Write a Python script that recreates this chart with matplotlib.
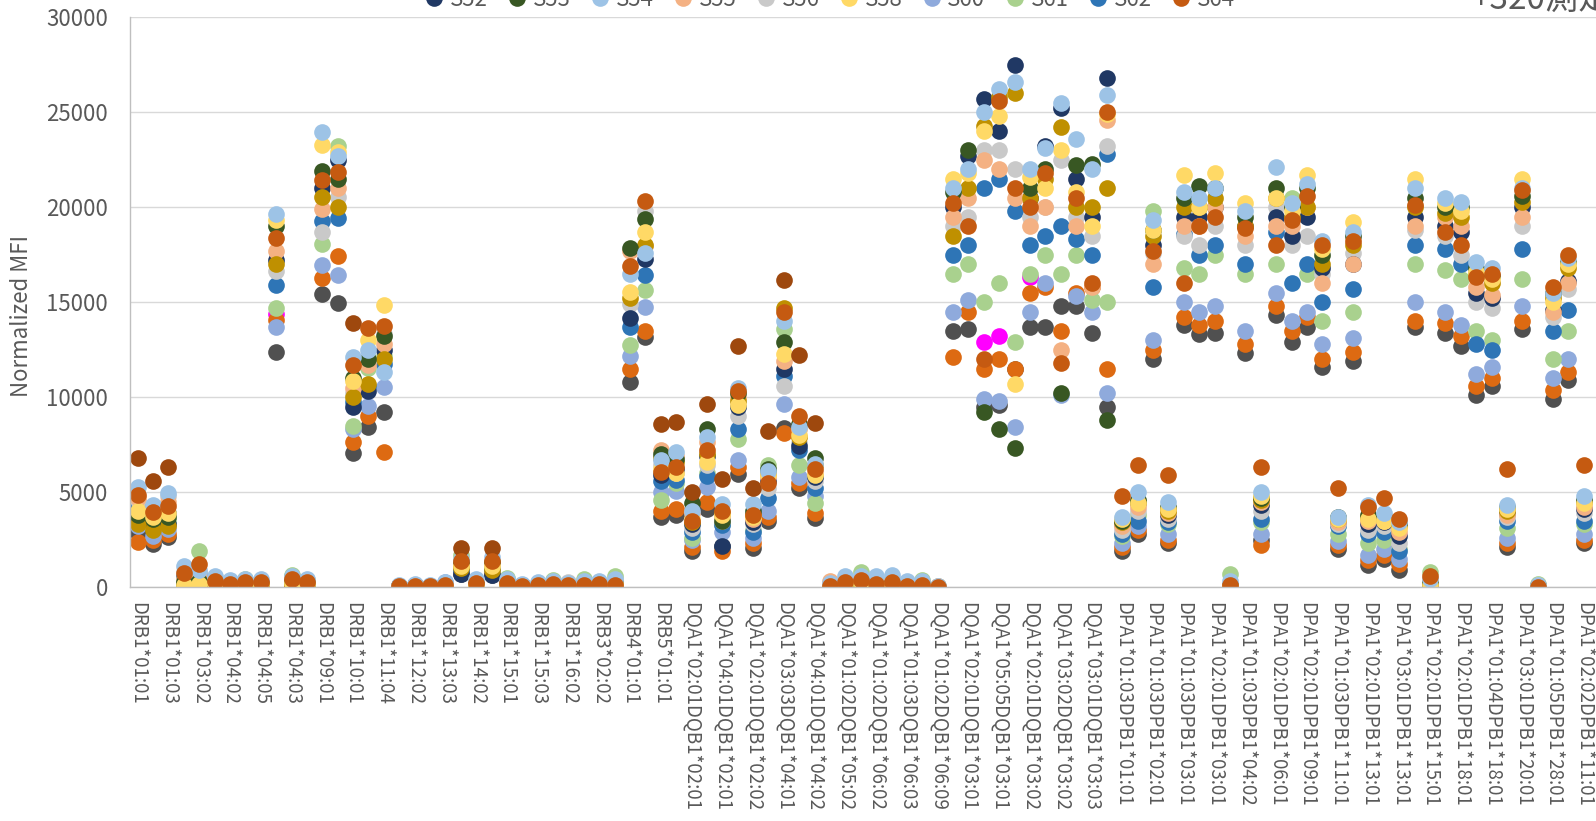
import numpy as np
import matplotlib
matplotlib.use("Agg")
import matplotlib.pyplot as plt

nan = np.nan

# x-axis labels (Excel shows every other category)
labels = ['DRB1*01:01', 'DRB1*01:03', 'DRB1*03:02', 'DRB1*04:02', 'DRB1*04:05', 'DRB1*04:03',
          'DRB1*09:01', 'DRB1*10:01', 'DRB1*11:04', 'DRB1*12:02', 'DRB1*13:03', 'DRB1*14:02',
          'DRB1*15:01', 'DRB1*15:03', 'DRB1*16:02', 'DRB3*02:02', 'DRB4*01:01', 'DRB5*01:01',
          'DQA1*02:01DQB1*02:01', 'DQA1*04:01DQB1*02:01', 'DQA1*02:01DQB1*02:02', 'DQA1*03:03DQB1*04:01',
          'DQA1*04:01DQB1*04:02', 'DQA1*01:02DQB1*05:02', 'DQA1*01:02DQB1*06:02', 'DQA1*01:03DQB1*06:03',
          'DQA1*01:02DQB1*06:09', 'DQA1*02:01DQB1*03:01', 'DQA1*05:05DQB1*03:01', 'DQA1*02:01DQB1*03:02',
          'DQA1*03:02DQB1*03:02', 'DQA1*03:01DQB1*03:03',
          'DPA1*01:03DPB1*01:01', 'DPA1*01:03DPB1*02:01', 'DPA1*01:03DPB1*03:01', 'DPA1*02:01DPB1*03:01',
          'DPA1*01:03DPB1*04:02', 'DPA1*02:01DPB1*06:01', 'DPA1*02:01DPB1*09:01', 'DPA1*01:03DPB1*11:01',
          'DPA1*02:01DPB1*13:01', 'DPA1*03:01DPB1*13:01', 'DPA1*02:01DPB1*15:01', 'DPA1*02:01DPB1*18:01',
          'DPA1*01:04DPB1*18:01', 'DPA1*03:01DPB1*20:01', 'DPA1*01:05DPB1*28:01', 'DPA1*02:02DPB1*11:01']
n_cat = 96

# series values, one per category
s40 = [nan]*9 + [14400] + [nan]*45 + [12900, 13200, nan, 16300] + [nan]*37

s49 = [2820, 2280, 2620, 150, 200, 100, 80, 80, 80, 12390, 100, 80,
       15410, 14970, 7040, 8430, 9220, 20, 20, 20, 50, 700, 50, 650,
       80, 30, 50, 80, 50, 80, 80, 80, 10800, 13160, 3670, 3810,
       1880, 4120, 2180, 5950, 2080, 3470, 8370, 5200, 3610, 20, 50, 100,
       50, 50, 20, 50, 10, 13500, 13600, 9500, 9600, 11500, 13700, 13700,
       14800, 14800, 13400, 9500, 1900, 2800, 12000, 2300, 13800, 13300, 13400, 0,
       12300, 2500, 14300, 12900, 13700, 11600, 2000, 11900, 1150, 1500, 900, 13700,
       0, 13400, 12700, 10100, 10600, 2100, 13600, 0, 9900, 10900, 2300, nan]

s42 = [2380, 2500, 2800, 300, 300, 150, 80, 100, 100, 14080, 150, 100,
       16260, 17450, 7630, 9000, 7100, 30, 40, 30, 60, 800, 80, 750,
       100, 40, 60, 100, 60, 100, 100, 100, 11500, 13480, 4000, 4100,
       2100, 4500, 1880, 6300, 2300, 3700, 8130, 5500, 3900, 30, 80, 150,
       80, 80, 30, 60, 10, 12100, 14500, 11500, 12000, 11500, 15500, 15800,
       13500, 15500, 15800, 11500, 2100, 3000, 12500, 2500, 14200, 13800, 14000, 20,
       12800, 2200, 14800, 13500, 14200, 12000, 2200, 12400, 1400, 1700, 1200, 14000,
       50, 13900, 13200, 10600, 11000, 2300, 14000, 10, 10400, 11300, 2500, nan]

s60 = [3200, 2700, 3070, 200, 300, 150, 100, 120, 120, 13680, 200, 120,
       16950, 16420, 8300, 9520, 10510, 40, 50, 40, 260, 900, 100, 900,
       150, 50, 80, 120, 80, 120, 120, 150, 12190, 14770, 5000, 5060,
       2500, 5250, 2900, 6700, 2600, 4000, 9620, 5800, 4800, 40, 100, 200,
       100, 100, 40, 80, 10, 14500, 15100, 9900, 9800, 8400, 14500, 16000,
       10100, 15300, 14500, 10200, 2300, 3200, 13000, 2800, 15000, 14500, 14800, 30,
       13500, 2800, 15500, 14000, 14500, 12800, 2400, 13100, 1700, 2000, 1500, 15000,
       80, 14500, 13800, 11200, 11600, 2600, 14800, 20, 11000, 12000, 2800, nan]

s61 = [3870, 3170, 3500, 500, 1880, 300, 200, 400, 300, 14670, 650, 350,
       18040, 23200, 8490, 11540, 12190, 60, 120, 60, 150, 1690, 250, 1000,
       500, 100, 200, 350, 200, 400, 250, 600, 12730, 15660, 4560, 5500,
       2600, 6000, 3300, 7800, 3000, 6450, 13580, 6440, 4400, 150, 400, 770,
       400, 400, 150, 385, 30, 16500, 17000, 15000, 16000, 12900, 16500, 17500,
       16500, 17500, 15100, 15000, 2700, 3800, 19800, 3300, 16800, 16500, 17500, 700,
       16500, 3400, 17000, 20500, 16500, 14000, 2800, 14500, 2300, 2500, 2000, 17000,
       800, 16700, 16200, 13500, 13000, 3100, 16200, 150, 12000, 13500, 3300, nan]

s62 = [4360, 3800, 3900, 600, 700, 250, 150, 200, 200, 15900, 300, 200,
       19250, 19430, 9750, 10600, 11740, 50, 80, 50, 100, 890, 120, 950,
       200, 80, 120, 200, 120, 200, 150, 200, 13680, 16420, 5590, 5650,
       2870, 5850, 3270, 8300, 2900, 4700, 11100, 7240, 5200, 60, 200, 300,
       200, 200, 60, 150, 20, 17500, 18000, 21000, 21500, 19800, 18000, 18500,
       19000, 18300, 17500, 22800, 2800, 3500, 15800, 3400, 18600, 17500, 18000, 100,
       17000, 3600, 18700, 16000, 17000, 15000, 3200, 15700, 2800, 2900, 1900, 18000,
       200, 17800, 17000, 12800, 12500, 3500, 17800, 50, 13500, 14600, 3500, nan]

s56 = [4600, 3900, 4800, 800, 800, 400, 200, 250, 250, 16650, 400, 250,
       18700, 20520, 10200, 11900, 13300, 60, 100, 60, 150, 1100, 150, 1150,
       250, 100, 150, 250, 250, 250, 200, 250, 14910, 19800, 6440, 6000,
       3100, 6400, 3500, 9000, 3300, 5200, 10600, 7600, 5600, 80, 250, 400,
       300, 300, 80, 200, 30, 19000, 19500, 23000, 23000, 22000, 19500, 20000,
       22500, 19500, 18500, 23200, 3000, 4000, 17600, 3600, 18500, 18000, 19000, 150,
       18000, 4000, 20000, 18000, 18500, 16500, 3300, 17600, 3000, 3200, 2300, 18800,
       250, 18500, 17500, 15000, 14700, 3700, 19000, 80, 14200, 15700, 3900, nan]

s52 = [3500, 3400, 3300, 200, 250, 200, 120, 150, 150, 17200, 250, 150,
       21000, 22500, 9500, 10300, 12500, 40, 60, 40, 100, 690, 100, 630,
       150, 60, 100, 150, 100, 150, 120, 150, 14180, 17250, 5900, 6200,
       3300, 6900, 2180, 9500, 3400, 5600, 11500, 7400, 5800, 50, 150, 250,
       150, 150, 50, 100, 20, 20000, 22700, 25700, 24000, 27500, 20500, 23200,
       25200, 21500, 19500, 26800, 3300, 4400, 18000, 3800, 19500, 19500, 20000, 50,
       19000, 4300, 19500, 18500, 19500, 16800, 3500, 17000, 3300, 3400, 2700, 19500,
       100, 19000, 18700, 15500, 15200, 3900, 20000, 40, 14600, 16100, 4100, nan]

s55 = [4700, 4200, 4500, 400, 500, 350, 200, 250, 250, 17690, 450, 250,
       19930, 21020, 10500, 11700, 12800, 70, 100, 70, 150, 1200, 200, 1200,
       250, 100, 150, 250, 150, 250, 200, 300, 17690, 17940, 7240, 6900,
       3900, 7630, 3700, 10000, 3600, 5800, 11900, 8300, 6000, 300, 300, 450,
       300, 300, 100, 250, 30, 19500, 20500, 22500, 22000, 20500, 19000, 20000,
       12500, 19000, 15800, 24600, 3200, 4200, 17000, 3900, 19000, 19000, 20000, 100,
       18500, 4500, 19000, 19000, 20000, 16000, 3400, 17000, 3500, 3500, 2900, 19000,
       300, 19500, 19000, 15800, 15400, 3800, 19500, 60, 14500, 16000, 4200, nan]

s47 = [3300, 3000, 3200, 150, 180, 120, 100, 100, 100, 17000, 150, 100,
       20520, 20000, 10000, 10700, 12000, 30, 50, 30, 80, 1000, 80, 900,
       120, 50, 80, 120, 80, 120, 100, 120, 15200, 18000, 6800, 6600,
       3400, 7000, 3900, 9800, 3800, 6000, 14670, 7900, 6400, 40, 120, 200,
       120, 120, 40, 100, 20, 18500, 21000, 24300, 25800, 26000, 20500, 21500,
       24200, 20000, 20000, 21000, 3400, 4500, 18500, 4000, 20000, 20000, 20500, 60,
       19000, 4600, 20500, 19500, 20000, 17000, 3600, 18000, 3700, 3600, 3200, 20000,
       150, 19700, 19500, 16500, 16000, 4000, 20300, 50, 15200, 16800, 4500, nan]

s53 = [3800, 3600, 3700, 250, 300, 250, 150, 200, 200, 19000, 300, 200,
       21900, 21500, 11000, 12000, 13200, 50, 80, 50, 120, 1300, 150, 1300,
       200, 80, 120, 200, 120, 200, 150, 200, 17840, 19370, 7000, 6740,
       4400, 8330, 3500, 10200, 4000, 6200, 12890, 8600, 6780, 50, 200, 300,
       200, 200, 50, 150, 20, 20800, 23000, 9200, 8300, 7300, 21000, 22000,
       10200, 22200, 22300, 8800, 3500, 4600, 18800, 4200, 20500, 21100, 21000, 80,
       19500, 4700, 21000, 20000, 21000, 17500, 3700, 18500, 3800, 3700, 3300, 20500,
       200, 20000, 20000, 16800, 16400, 4200, 20600, 60, 15500, 17100, 4600, nan]

s58 = [4000, 3700, 3900, 100, 150, 200, 100, 150, 150, 19330, 200, 150,
       23300, 22900, 10870, 12990, 14870, 40, 60, 40, 80, 1100, 100, 1100,
       150, 60, 100, 150, 100, 150, 120, 150, 15560, 18680, 6200, 6000,
       3600, 6580, 3800, 9600, 3700, 5900, 12290, 8030, 5900, 60, 150, 250,
       150, 150, 60, 120, 20, 21500, 21800, 24000, 24800, 10700, 21600, 21000,
       23000, 20800, 19000, 24900, 3600, 4400, 18800, 4100, 21700, 20000, 21800, 50,
       20200, 4800, 20500, 19800, 21700, 17800, 3600, 19200, 3600, 3500, 3100, 21500,
       100, 20200, 19800, 16600, 16200, 4100, 21500, 40, 15000, 17000, 4400, nan]

s54 = [5250, 4300, 4960, 1090, 900, 600, 350, 400, 400, 19630, 600, 400,
       23950, 22700, 12090, 12500, 11300, 100, 150, 100, 250, 1500, 400, 1600,
       400, 150, 250, 300, 200, 300, 300, 400, 16460, 17600, 6700, 7100,
       4000, 7900, 4360, 10500, 4350, 6100, 14000, 8400, 6500, 200, 560, 600,
       600, 650, 300, 300, 50, 21000, 22000, 25000, 26200, 26600, 22000, 23100,
       25500, 23600, 22000, 25900, 3700, 5000, 19300, 4500, 20800, 20500, 21000, 300,
       19800, 5000, 22100, 20200, 21200, 18200, 3700, 18700, 4300, 3900, 3400, 21000,
       400, 20500, 20300, 17100, 16800, 4300, 21000, 100, 15500, 17300, 4800, nan]

s46 = [6780, 5590, 6300, nan, nan, nan, nan, nan, nan, nan, nan, nan,
       nan, nan, 13880, nan, nan, nan, nan, nan, nan, 2080, nan, 2080,
       nan, nan, nan, nan, nan, nan, nan, nan, nan, nan, 8560, 8680,
       5000, 9620, 5710, 12700, 5200, 8190, 16160, 12230, 8620, nan, nan, nan] + [nan]*48

s64 = [4860, 3970, 4260, 750, 1190, 300, 160, 240, 240, 18400, 400, 240,
       21410, 21850, 11700, 13640, 13720, 50, 60, 50, 120, 1390, 200, 1350,
       200, 60, 80, 150, 80, 100, 160, 120, 16890, 20320, 6050, 6300,
       3470, 7240, 4000, 10300, 3800, 5500, 14470, 9020, 6190, 70, 245, 350,
       175, 245, 70, 120, 10, 20200, 19000, 12000, 25600, 21000, 20000, 21800,
       11800, 20500, 16000, 25000, 4800, 6450, 17700, 5900, 16000, 19000, 19500, 100,
       18900, 6300, 18000, 19300, 20600, 18000, 5200, 18200, 4200, 4700, 3600, 20100,
       600, 18700, 18000, 16300, 16500, 6200, 20900, 0, 15800, 17500, 6450, nan]

plt.rcParams['font.family'] = ['Noto Sans CJK TC', 'DejaVu Sans']
txt = '#595959'

W, H = 1596, 821
fig = plt.figure(figsize=(W / 100, H / 100), dpi=100)
ax = fig.add_axes([130 / W, 234 / H, 96 * 15.385 / W, 569.7 / H])

# (name, values, colour, shown in legend) in drawing order
series = [
    ('S40', s40, '#FF00FF', False),
    ('S49', s49, '#505050', False),
    ('S42', s42, '#DD6A12', False),
    ('S60', s60, '#8FAADC', True),
    ('S61', s61, '#A9D18E', True),
    ('S62', s62, '#2E75B6', True),
    ('S56', s56, '#C9C9C9', True),
    ('S52', s52, '#203864', True),
    ('S55', s55, '#F4B183', True),
    ('S47', s47, '#BF9000', False),
    ('S53', s53, '#385723', True),
    ('S58', s58, '#FFD966', True),
    ('S54', s54, '#9DC3E6', True),
    ('S46', s46, '#9E480E', False),
    ('S64', s64, '#C55A11', True),
]

x = np.arange(n_cat)
handles = {}
for name, vals, col, show in series:
    ln, = ax.plot(x, vals, linestyle='none', marker='o', ms=12,
                  color=col, mec=col, mew=0)
    if show:
        handles[name] = ln

ax.set_xlim(-0.5, n_cat - 0.5)
ax.set_ylim(0, 30000)
ax.set_yticks(range(0, 30001, 5000))
ax.set_yticklabels([str(v) for v in range(0, 30001, 5000)])
ax.set_xticks(np.arange(0, n_cat, 2)[:len(labels)])
ax.set_xticklabels(labels, rotation=270, ha='center', va='top')
ax.tick_params(axis='y', length=0, pad=16, labelsize=16, labelcolor=txt)
ax.tick_params(axis='x', length=0, pad=11, labelsize=13.5, labelcolor=txt)

ax.yaxis.grid(True, color='#D9D9D9', linewidth=1.0)
ax.set_axisbelow(True)
for s in ['top', 'right']:
    ax.spines[s].set_visible(False)
for s in ['left', 'bottom']:
    ax.spines[s].set_color('#BFBFBF')
    ax.spines[s].set_linewidth(1.0)

fig.text(22 / W, 1 - 316 / H, 'Normalized MFI', rotation=90, ha='center', va='center',
         fontsize=16, color=txt)
fig.text(1472 / W, 1 - 9.3 / H, '+320測定', ha='left', va='baseline', fontsize=24, color=txt)

order = ['S52', 'S53', 'S54', 'S55', 'S56', 'S58', 'S60', 'S61', 'S62', 'S64']
fig.legend([handles[n] for n in order], order, loc='center', bbox_to_anchor=(0.52, 1.0012),
           ncol=10, frameon=False, fontsize=16, labelcolor=txt, handlelength=0.8,
           handletextpad=0.3, columnspacing=0.93, borderpad=0, borderaxespad=0)

fig.savefig('out.png', dpi=100)
